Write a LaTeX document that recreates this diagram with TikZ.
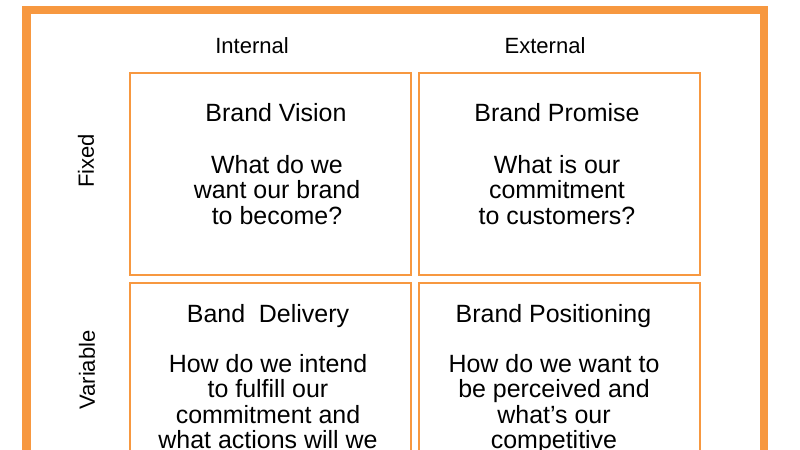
\documentclass[tikz,border=0pt]{standalone}
\usepackage{fontspec}
\setmainfont{Liberation Sans}
\definecolor{brandorange}{RGB}{247,152,64}

\begin{document}
\begin{tikzpicture}[
    x=0.03cm, y=-0.03cm,
    cell/.style={draw=brandorange,line width=2.3pt,minimum width=8.43cm,minimum height=6.06cm,inner sep=0pt},
    title/.style={anchor=base,inner sep=0pt,font=\fontsize{21.3}{21.3}\selectfont},
    body/.style={anchor=north,inner sep=0pt,align=center,font=\fontsize{21.3}{21.8}\selectfont},
    axis/.style={inner sep=0pt,font=\fontsize{18.8}{18.8}\selectfont}
]
\useasboundingbox (0,0) rectangle (800,450);
\clip (0,0) rectangle (800,450);

% outer frame
\draw[brandorange,line width=6.9pt] (26.5,10) rectangle (764,480);

% axis labels
\node[axis,anchor=base] (internal) at (252,54) {Internal};
\node[axis,anchor=base] (external) at (545,54) {External};
\node[axis,rotate=90] (fixed) at (86,161) {Fixed};
\node[axis,rotate=90] (variable) at (87,370) {Variable};

% quadrants
\node[cell] (vision) at (270.5,174) {};
\node[cell] (promise) at (559.5,174) {};
\node[cell] (delivery) at (270.5,384) {};
\node[cell] (positioning) at (559.5,384) {};

\node[title] (visiontitle) at (276,122) {Brand Vision};
\node[body] (visiontext) at (277,155) {What do we\\want our brand\\ to become?};

\node[title] (promisetitle) at (557,122) {Brand Promise};
\node[body] (promisetext) at (557,155) {What is our\\commitment\\to customers?};

\node[title] (deliverytitle) at (268,322) {Band\ \ Delivery};
\node[body] (deliverytext) at (268,354) {How do we intend\\to fulfill our\\commitment and\\what actions will we};

\node[title] (positioningtitle) at (553.5,322) {Brand Positioning};
\node[body] (positioningtext) at (554,354) {How do we want to\\be perceived and\\what’s our\\competitive};
\end{tikzpicture}
\end{document}
